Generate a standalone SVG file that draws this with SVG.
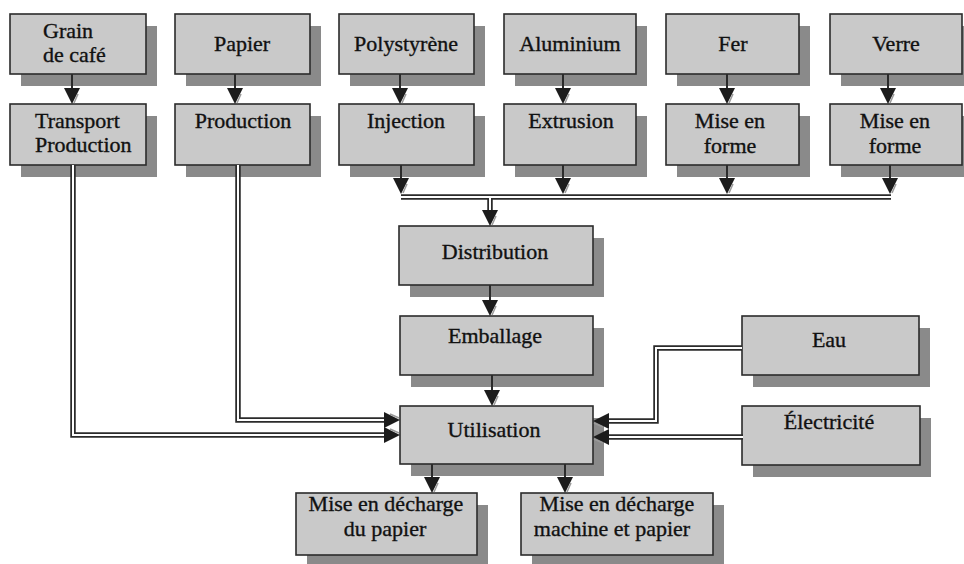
<svg xmlns="http://www.w3.org/2000/svg" xmlns:xlink="http://www.w3.org/1999/xlink" width="964" height="564" viewBox="0 0 964 564">
<style>
.sh{fill:#8a8a8a}
.bx{fill:#c9c9c9;stroke:#2b2b2b;stroke-width:1.6}
.t{font-family:"Liberation Serif","Times New Roman",serif;font-size:22px;fill:#111;stroke:#111;stroke-width:0.35;text-anchor:middle}
.l{text-anchor:start}
.s{fill:none;stroke:#2b2b2b;stroke-width:2}
.o{fill:none;stroke:#2b2b2b;stroke-width:5.5}
.i{fill:none;stroke:#fff;stroke-width:2}
</style>
<defs>
<g id="ad"><path d="M-8,-16 L8,-16 L0,0 Z" fill="#1c1c1c"/><path d="M2,-1 L6,-10" stroke="#9a9a9a" stroke-width="1.5"/></g>
</defs>
<rect width="964" height="564" fill="#fff"/>

<g id="grain"><rect class="sh" x="21" y="26" width="136" height="60"/><rect class="bx" x="10" y="14" width="136" height="60"/><text class="t l" x="43" y="38">Grain</text><text class="t l" x="43" y="62">de café</text></g>
<g id="papier"><rect class="sh" x="186" y="26" width="135" height="60"/><rect class="bx" x="175" y="14" width="135" height="60"/><text class="t" x="242" y="51">Papier</text></g>
<g id="polystyrene"><rect class="sh" x="350" y="26" width="135" height="60"/><rect class="bx" x="339" y="14" width="135" height="60"/><text class="t" x="406" y="51">Polystyrène</text></g>
<g id="aluminium"><rect class="sh" x="515" y="26" width="132" height="60"/><rect class="bx" x="504" y="14" width="132" height="60"/><text class="t" x="570" y="51">Aluminium</text></g>
<g id="fer"><rect class="sh" x="677" y="26" width="133" height="60"/><rect class="bx" x="666" y="14" width="133" height="60"/><text class="t" x="733" y="51">Fer</text></g>
<g id="verre"><rect class="sh" x="841" y="26" width="132" height="60"/><rect class="bx" x="830" y="14" width="132" height="60"/><text class="t" x="896" y="51">Verre</text></g>

<g id="transport"><rect class="sh" x="21" y="116" width="136" height="61"/><rect class="bx" x="10" y="104" width="136" height="61"/><text class="t l" x="35" y="128">Transport</text><text class="t l" x="35" y="152">Production</text></g>
<g id="production"><rect class="sh" x="186" y="116" width="135" height="61"/><rect class="bx" x="175" y="104" width="135" height="61"/><text class="t" x="243" y="128">Production</text></g>
<g id="injection"><rect class="sh" x="350" y="116" width="135" height="61"/><rect class="bx" x="339" y="104" width="135" height="61"/><text class="t" x="406" y="128">Injection</text></g>
<g id="extrusion"><rect class="sh" x="515" y="116" width="132" height="61"/><rect class="bx" x="504" y="104" width="132" height="61"/><text class="t" x="571" y="128">Extrusion</text></g>
<g id="forme-fer"><rect class="sh" x="677" y="116" width="133" height="61"/><rect class="bx" x="666" y="104" width="133" height="61"/><text class="t" x="730" y="128">Mise en</text><text class="t" x="730" y="153">forme</text></g>
<g id="forme-verre"><rect class="sh" x="841" y="116" width="132" height="61"/><rect class="bx" x="830" y="104" width="132" height="61"/><text class="t" x="895" y="128">Mise en</text><text class="t" x="895" y="153">forme</text></g>

<g id="distribution"><rect class="sh" x="410" y="238" width="194" height="59"/><rect class="bx" x="399" y="226" width="194" height="59"/><text class="t" x="495" y="259">Distribution</text></g>
<g id="emballage"><rect class="sh" x="411" y="328" width="193" height="59"/><rect class="bx" x="400" y="316" width="193" height="59"/><text class="t" x="495" y="343">Emballage</text></g>
<g id="utilisation"><rect class="sh" x="411" y="418" width="193" height="58"/><rect class="bx" x="400" y="406" width="193" height="58"/><text class="t" x="494" y="437">Utilisation</text></g>
<g id="eau"><rect class="sh" x="753" y="328" width="177" height="59"/><rect class="bx" x="742" y="316" width="177" height="59"/><text class="t" x="829" y="347">Eau</text></g>
<g id="electricite"><rect class="sh" x="753" y="418" width="178" height="59"/><rect class="bx" x="742" y="406" width="178" height="59"/><text class="t" x="829" y="429">Électricité</text></g>
<g id="decharge-papier"><rect class="sh" x="307" y="505" width="181" height="62"/><rect class="bx" x="296" y="493" width="181" height="62"/><text class="t" x="386" y="511">Mise en décharge</text><text class="t" x="385" y="536">du papier</text></g>
<g id="decharge-machine"><rect class="sh" x="532" y="505" width="192" height="62"/><rect class="bx" x="521" y="493" width="192" height="62"/><text class="t" x="617" y="511">Mise en décharge</text><text class="t" x="612" y="536">machine et papier</text></g>

<g id="connectors">
<path class="s" d="M72,74 V90 M235,74 V90 M400,74 V90 M563,74 V90 M727,74 V90 M888,74 V90"/>
<path class="s" d="M401,165 V180 M563,165 V180 M727,165 V180 M890,165 V180"/>
<path class="s" d="M490,285 V302 M492,375 V392 M432,464 V479 M565,464 V479"/>
<path class="o" d="M401,197 H891 M490,197 V212 M73,165 V435 H386 M238,165 V420 H386 M742,348 H656 V421 H607 M743,437 H607"/>
<path class="i" d="M401,197 H891 M490,197 V212 M73,165 V435 H386 M238,165 V420 H386 M742,348 H656 V421 H607 M743,437 H607"/>
<use xlink:href="#ad" transform="translate(72,104)"/>
<use xlink:href="#ad" transform="translate(235,104)"/>
<use xlink:href="#ad" transform="translate(400,104)"/>
<use xlink:href="#ad" transform="translate(563,104)"/>
<use xlink:href="#ad" transform="translate(727,104)"/>
<use xlink:href="#ad" transform="translate(888,104)"/>
<use xlink:href="#ad" transform="translate(401,194)"/>
<use xlink:href="#ad" transform="translate(563,194)"/>
<use xlink:href="#ad" transform="translate(727,194)"/>
<use xlink:href="#ad" transform="translate(890,194)"/>
<use xlink:href="#ad" transform="translate(490,226)"/>
<use xlink:href="#ad" transform="translate(490,316)"/>
<use xlink:href="#ad" transform="translate(492,406)"/>
<use xlink:href="#ad" transform="translate(432,493)"/>
<use xlink:href="#ad" transform="translate(565,493)"/>
<use xlink:href="#ad" transform="translate(400,420) rotate(-90)"/>
<use xlink:href="#ad" transform="translate(400,435) rotate(-90)"/>
<use xlink:href="#ad" transform="translate(593,421) rotate(90)"/>
<use xlink:href="#ad" transform="translate(593,437) rotate(90)"/>
</g>
</svg>
